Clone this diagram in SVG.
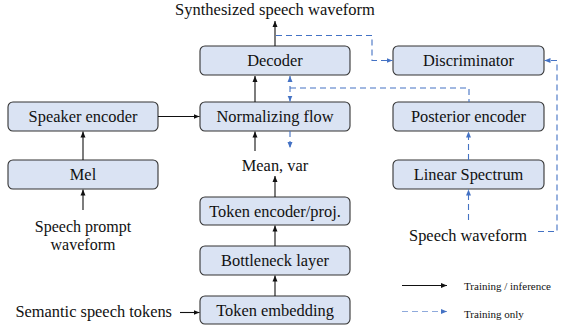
<svg xmlns="http://www.w3.org/2000/svg" width="563" height="329" viewBox="0 0 563 329">
<style>
text{font-family:"Liberation Serif","Tinos","Times New Roman","Noto Serif","DejaVu Serif",serif}
.box{fill:#dae3f3;stroke:#333;stroke-width:1.1}
.lbl{font-size:16.4px;fill:#111;text-anchor:middle}
.txt{font-size:16.4px;fill:#111}
.leg{font-size:11px;fill:#111}
.solid{fill:none;stroke:#111;stroke-width:1.1;marker-end:url(#ah)}
.dash{fill:none;stroke:#4472c4;stroke-width:1.1;stroke-dasharray:6 4}
.da{marker-end:url(#bh)}
</style>
<defs>
<marker id="ah" viewBox="0 0 6 6" refX="6" refY="3" markerWidth="6" markerHeight="6" markerUnits="userSpaceOnUse" orient="auto"><path d="M0,0.5 L6,3 L0,5.5 z" fill="#111"/></marker>
<marker id="bh" viewBox="0 0 6 6" refX="6" refY="3" markerWidth="6" markerHeight="6" markerUnits="userSpaceOnUse" orient="auto"><path d="M0,0.5 L6,3 L0,5.5 z" fill="#4472c4"/></marker>
<marker id="bs" viewBox="0 0 6 6" refX="0" refY="3" markerWidth="6" markerHeight="6" markerUnits="userSpaceOnUse" orient="auto"><path d="M6,0.5 L0,3 L6,5.5 z" fill="#4472c4"/></marker>
</defs>
<text class="lbl" x="275" y="14.5" style="font-size:16.5px">Synthesized speech waveform</text>
<g id="decoder"><rect class="box" x="200" y="46" width="150" height="29" rx="5"/><text class="lbl" x="275" y="66">Decoder</text></g>
<g id="normalizing-flow"><rect class="box" x="200" y="102" width="150" height="29" rx="5"/><text class="lbl" x="275" y="122">Normalizing flow</text></g>
<g id="speaker-encoder"><rect class="box" x="8" y="102" width="150" height="29" rx="5"/><text class="lbl" x="83" y="122">Speaker encoder</text></g>
<g id="mel"><rect class="box" x="8" y="160" width="150" height="29" rx="5"/><text class="lbl" x="83" y="180">Mel</text></g>
<g id="discriminator"><rect class="box" x="393" y="46" width="151" height="29" rx="5"/><text class="lbl" x="468.5" y="66">Discriminator</text></g>
<g id="posterior-encoder"><rect class="box" x="393" y="102" width="151" height="29" rx="5"/><text class="lbl" x="468.5" y="122">Posterior encoder</text></g>
<g id="linear-spectrum"><rect class="box" x="393" y="160" width="151" height="29" rx="5"/><text class="lbl" x="468.5" y="180">Linear Spectrum</text></g>
<g id="token-encoder"><rect class="box" x="200" y="197" width="150" height="28" rx="5"/><text class="lbl" x="275" y="216.5">Token encoder/proj.</text></g>
<g id="bottleneck"><rect class="box" x="200" y="246" width="150" height="29" rx="5"/><text class="lbl" x="275" y="266">Bottleneck layer</text></g>
<g id="token-embedding"><rect class="box" x="200" y="296" width="150" height="28" rx="5"/><text class="lbl" x="275" y="316">Token embedding</text></g>
<g id="labels">
<text class="lbl" x="275" y="171">Mean, var</text>
<text class="lbl" x="83" y="231.5" style="font-size:16px">Speech prompt</text>
<text class="lbl" x="83" y="249.5" style="font-size:16px">waveform</text>
<text class="txt" x="172" y="317" text-anchor="end">Semantic speech tokens</text>
<text class="lbl" x="468" y="241">Speech waveform</text>
</g>
<g id="connectors">
<path class="solid" d="M275 46 V21"/>
<path class="solid" d="M255 102 V76"/>
<path class="solid" d="M158 116.5 H199.5"/>
<path class="solid" d="M83 160 V131.5"/>
<path class="solid" d="M83 210 V189.5"/>
<path class="solid" d="M255 151 V131.5"/>
<path class="solid" d="M275 197 V176"/>
<path class="solid" d="M275 246 V225.5"/>
<path class="solid" d="M275 296 V275.5"/>
<path class="solid" d="M180 312.5 H199.5"/>
<path class="dash da" d="M276 35.5 H372 V60.5 H392.5"/>
<path class="dash da" d="M290 76 V101.5" style="marker-start:url(#bs)"/>
<path class="dash" d="M290 88 H469 V102"/>
<path class="dash da" d="M290 131 V148"/>
<path class="dash da" d="M468.5 160 V131.5"/>
<path class="dash da" d="M468.5 220 V189.5"/>
<path class="dash da" d="M538 231.5 H557 V60.5 H544.5"/>
</g>
<g id="legend">
<path class="solid" d="M402 285.5 H447"/>
<text class="leg" x="464" y="290">Training / inference</text>
<path class="dash da" d="M402 311.5 H447" style="stroke:#8faadc"/>
<text class="leg" x="464" y="318">Training only</text>
</g>
</svg>
